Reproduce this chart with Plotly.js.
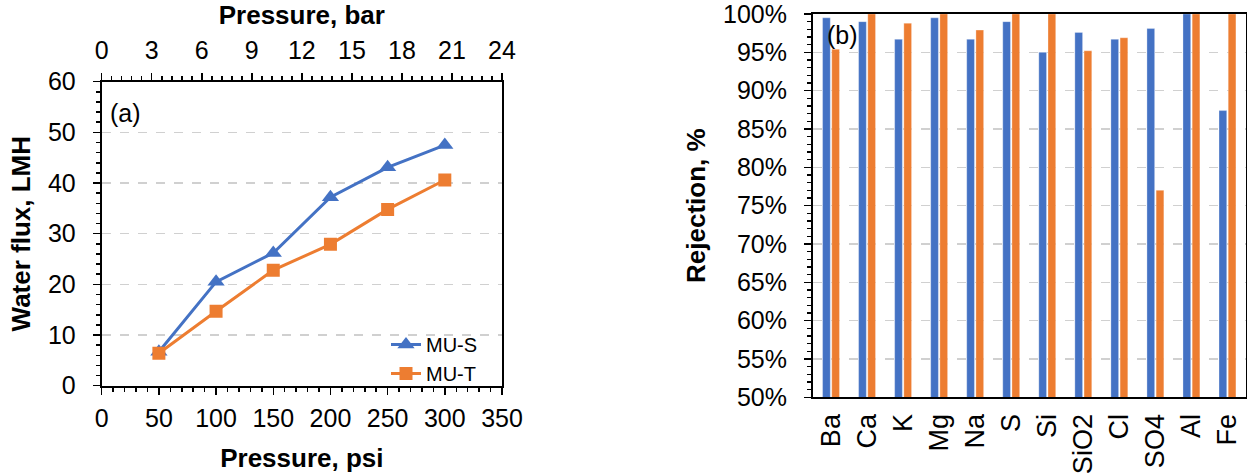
<!DOCTYPE html>
<html><head><meta charset="utf-8">
<script src="https://cdn.plot.ly/plotly-3.0.1.min.js"></script>
<style>html,body{margin:0;padding:0;background:#fff}#chart{width:1247px;height:473px}</style>
</head><body><div id="chart"></div>
<script>
// ---- data ----
const pressurePsi = [50, 100, 150, 200, 250, 300];
const fluxMUS = [6.7, 20.5, 26.2, 37.2, 43.1, 47.5];
const fluxMUT = [6.4, 14.7, 22.8, 27.9, 34.8, 40.6];
const elements = ['Ba', 'Ca', 'K', 'Mg', 'Na', 'S', 'Si', 'SiO2', 'Cl', 'SO4', 'Al', 'Fe'];
const rejMUS = [99.5, 99.0, 96.7, 99.5, 96.7, 99.0, 95.0, 97.6, 96.7, 98.1, 100, 87.4];
const rejMUT = [95.4, 100, 98.8, 100, 97.9, 100, 100, 95.2, 96.9, 77.0, 100, 100];
const seriesNames = ['MU-S', 'MU-T'];

// ---- style ----
const FONT = 'Liberation Sans, Arial, sans-serif';
const BLUE = '#4472C4', ORANGE = '#ED7D31';
const W = 1247, H = 473;
const px = x => x / W, py = y => 1 - y / H;

const traces = [
  {x: pressurePsi, y: fluxMUS, xaxis: 'x', yaxis: 'y', name: seriesNames[0], mode: 'lines+markers',
   line: {color: BLUE, width: 3}, marker: {symbol: 'triangle-up', size: 15, color: BLUE}},
  {x: pressurePsi, y: fluxMUT, xaxis: 'x', yaxis: 'y', name: seriesNames[1], mode: 'lines+markers',
   line: {color: ORANGE, width: 3}, marker: {symbol: 'square', size: 13, color: ORANGE}},
  {x: [], y: [], xaxis: 'x2', yaxis: 'y', showlegend: false, hoverinfo: 'skip', mode: 'markers'},
  {type: 'bar', x: elements, y: rejMUS, xaxis: 'x3', yaxis: 'y3', name: seriesNames[0], showlegend: false,
   marker: {color: BLUE, line: {color: 'rgba(255,255,255,0.5)', width: 0.6}}},
  {type: 'bar', x: elements, y: rejMUT, xaxis: 'x3', yaxis: 'y3', name: seriesNames[1], showlegend: false,
   marker: {color: ORANGE, line: {color: 'rgba(255,255,255,0.5)', width: 0.6}}}
];

const tickFont = {family: FONT, size: 25, color: '#000'};
const titleFont = {family: FONT, size: 26, color: '#000'};
const axBase = {showline: true, linecolor: '#000', linewidth: 2, ticks: 'outside', ticklen: 7, tickwidth: 1.5,
  tickcolor: '#000', zeroline: false, tickfont: tickFont, fixedrange: true, ticklabeloverflow: 'allow'};
const gridStyle = {showgrid: true, gridcolor: '#d0d0d0', gridwidth: 1.2, griddash: 'dash'};

const layout = {
  width: W, height: H,
  margin: {l: 0, r: 0, t: 0, b: 0},
  paper_bgcolor: '#fff', plot_bgcolor: 'rgba(0,0,0,0)',
  font: {family: FONT, color: '#000'},
  barmode: 'group', bargap: 0.49, bargroupgap: 0.16,
  showlegend: true,
  legend: {x: px(386), y: py(325), xanchor: 'left', yanchor: 'top', bgcolor: 'rgba(0,0,0,0)',
    font: {family: FONT, size: 20, color: '#000'}, tracegroupgap: 0},
  xaxis: Object.assign({}, axBase, {domain: [px(101.7), px(502)], anchor: 'y', range: [0, 350], dtick: 50,
    showgrid: false, ticklabelstandoff: 2,
    minor: {ticks: 'outside', ticklen: 4, dtick: 10, tickcolor: '#000', tickwidth: 1.5, showgrid: false},
    title: {text: '<b>Pressure, psi</b>', font: titleFont, standoff: 24}}),
  xaxis2: Object.assign({}, axBase, {overlaying: 'x', side: 'top', anchor: 'y', range: [0, 24], dtick: 3,
    showgrid: false, ticklabelstandoff: 4,
    minor: {ticks: 'outside', ticklen: 4, dtick: 0.6, tickcolor: '#000', tickwidth: 1.5, showgrid: false},
    title: {text: '<b>Pressure, bar</b>', font: titleFont, standoff: 9}}),
  yaxis: Object.assign({}, axBase, gridStyle, {domain: [py(385.7), py(81.7)], anchor: 'x', range: [0, 60], dtick: 10,
    mirror: true, ticklabelstandoff: 12,
    minor: {ticks: 'outside', ticklen: 4, dtick: 2, tickcolor: '#000', tickwidth: 1.5, showgrid: false},
    title: {text: '<b>Water flux, LMH</b>', font: titleFont, standoff: 10}}),
  xaxis3: Object.assign({}, axBase, {domain: [px(813), px(1245.5)], anchor: 'y3', mirror: true, ticks: '',
    showgrid: false, tickangle: -90, tickfont: {family: FONT, size: 27, color: '#000'}, ticklabelstandoff: 4}),
  yaxis3: Object.assign({}, axBase, gridStyle, {domain: [py(397.3), py(14)], anchor: 'x3', range: [50, 100], dtick: 5,
    ticksuffix: '%', mirror: true, ticklabelstandoff: 12,
    minor: {ticks: 'outside', ticklen: 4, dtick: 1, tickcolor: '#000', tickwidth: 1.5, showgrid: false},
    title: {text: '<b>Rejection, %</b>', font: titleFont, standoff: 10}}),
  annotations: [
    {text: '(a)', xref: 'paper', yref: 'paper', x: px(125.8), y: py(113), xanchor: 'center', yanchor: 'middle',
     showarrow: false, font: {family: FONT, size: 25, color: '#000'}},
    {text: '(b)', xref: 'paper', yref: 'paper', x: px(842), y: py(35), xanchor: 'center', yanchor: 'middle',
     showarrow: false, font: {family: FONT, size: 25, color: '#000'}}
  ]
};

Plotly.newPlot('chart', traces, layout, {staticPlot: true, displayModeBar: false});
</script>
</body></html>
